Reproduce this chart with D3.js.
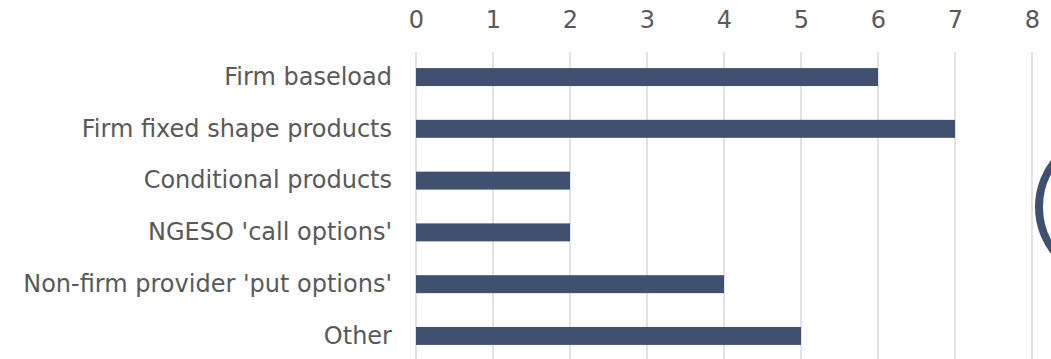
<!DOCTYPE html>
<html><head><meta charset="utf-8">
<script src="https://cdn.jsdelivr.net/npm/d3@7"></script>
<style>body{margin:0;background:#fff}svg{display:block}</style>
</head><body>
<script>
const categories = ["Firm baseload","Firm fixed shape products","Conditional products","NGESO 'call options'","Non-firm provider 'put options'","Other"];
const values = [6,7,2,2,4,5];
const ticks = [0,1,2,3,4,5,6,7,8];

const W=1051,H=359;
const svg=d3.select("body").append("svg").attr("width",W).attr("height",H);
const x=d3.scaleLinear().domain([0,8]).range([416,1032]);
const y=d3.scaleBand().domain(categories).range([51,362]).paddingInner(0.653).paddingOuter(0.33);
const font="DejaVu Sans, Verdana, sans-serif";

// gridlines
svg.append("g").selectAll("line").data(ticks).join("line")
 .attr("x1",d=>x(d)).attr("x2",d=>x(d)).attr("y1",52).attr("y2",H)
 .attr("stroke","#d9d9d9").attr("stroke-width",1.5);

// axis labels
const ax=svg.append("g").attr("transform","translate(0,20)").call(d3.axisTop(x).tickValues(ticks).tickSize(0).tickPadding(0));
ax.select(".domain").remove();
ax.selectAll("text").attr("font-family",font).attr("font-size",24).attr("fill","#595959").attr("dy","0.35em");

// bars
svg.append("g").selectAll("rect").data(values).join("rect")
 .attr("x",x(0)).attr("y",(d,i)=>y(categories[i]))
 .attr("width",d=>x(d)-x(0)).attr("height",y.bandwidth())
 .attr("fill","#3f5070");

// category labels
const yl=svg.append("g").attr("transform",`translate(${x(0)-24},0)`).call(d3.axisLeft(y).tickSize(0).tickPadding(0));
yl.select(".domain").remove();
yl.selectAll("text").attr("font-family",font).attr("font-size",24).attr("fill","#595959");

// decorative circle at right edge
svg.append("circle").attr("cx",1112).attr("cy",207).attr("r",73)
 .attr("fill","none").attr("stroke","#3f5070").attr("stroke-width",8);
</script>
</body></html>
